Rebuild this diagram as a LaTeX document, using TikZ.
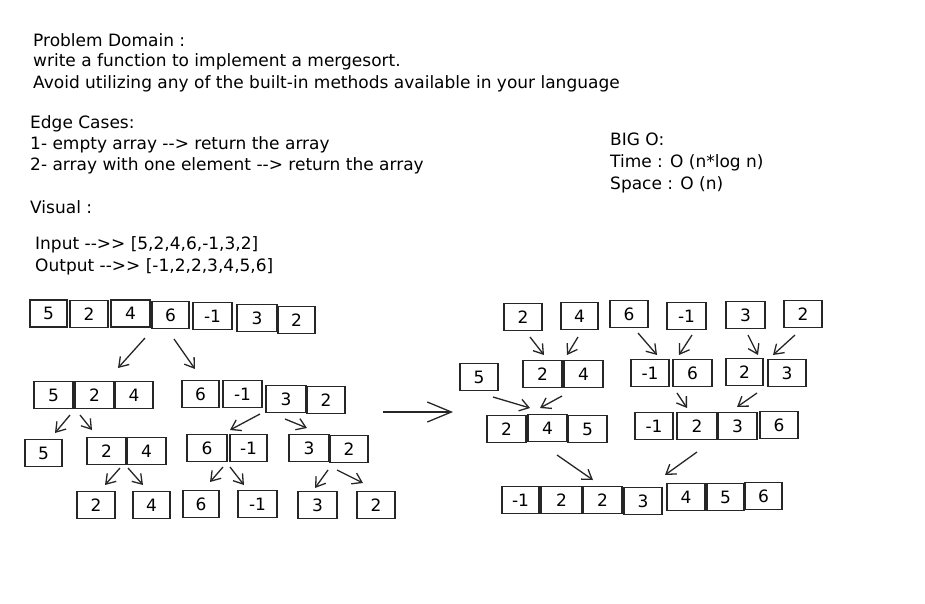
\documentclass[tikz,border=0pt]{standalone}
\usepackage{fontspec}
\setmainfont{DejaVu Sans}
\usetikzlibrary{arrows.meta}
\begin{document}
\begin{tikzpicture}[x=1pt,y=-1pt,
  cell/.style={draw=black!85,line width=1.4pt,minimum height=27pt,inner sep=0pt,font=\fontsize{17}{17}\selectfont},
  txt/.style={anchor=base west,inner sep=0pt,font=\fontsize{17}{18}\selectfont},
  arr/.style={draw=black!85,line width=1.3pt,-{Straight Barb[length=9pt,width=12pt]}},
  bigarr/.style={draw=black!85,line width=1.3pt,-{Straight Barb[length=24pt,width=20pt]}}]
\useasboundingbox (0,0) rectangle (925,603);
\fill[white] (0,0) rectangle (925,603);
% texts
\node[txt] (t1) at (33,46) {Problem Domain :};
\node[txt] (t2) at (33,66) {write a function to implement a mergesort.};
\node[txt] (t3) at (33,88) {Avoid utilizing any of the built-in methods available in your language};
\node[txt] (t4) at (30,128) {Edge Cases:};
\node[txt] (t5) at (30,149) {1- empty array -{}-> return the array};
\node[txt] (t6) at (30,170) {2- array with one element -{}-> return the array};
\node[txt] (t7) at (30,213) {Visual :};
\node[txt] (t8) at (610,145) {BIG O:};
\node[txt] (t9) at (610,167) {Time : O (n*log n)};
\node[txt] (t10) at (610,189) {Space : O (n)};
\node[txt] (t11) at (35,249) {Input -{}->{}> [5,2,4,6,-1,3,2]};
\node[txt] (t12) at (35,271) {Output -{}->{}> [-1,2,2,3,4,5,6]};
% row 1
\node[cell,minimum width=37pt] (a1) at (48.5,313.5) {5};
\node[cell,minimum width=38pt] (a2) at (89,314) {2};
\node[cell,minimum width=39pt] (a3) at (130.5,313.5) {4};
\node[cell,minimum width=37pt] (a4) at (170.5,315) {6};
\node[cell,minimum width=39pt] (a5) at (212.5,316) {-1};
\node[cell,minimum width=40pt] (a6) at (257,318) {3};
\node[cell,minimum width=37pt] (a7) at (296.5,320) {2};
% row 2
\node[cell,minimum width=39pt] (b1) at (53.5,395) {5};
\node[cell,minimum width=39pt] (b2) at (94.5,395) {2};
\node[cell,minimum width=38pt] (b3) at (134,395) {4};
\node[cell,minimum width=37pt] (b4) at (200.5,394) {6};
\node[cell,minimum width=39pt] (b5) at (242.5,394) {-1};
\node[cell,minimum width=40pt] (b6) at (286,399) {3};
\node[cell,minimum width=38pt] (b7) at (326,400) {2};
% row 3
\node[cell,minimum width=37pt] (c1) at (43.5,453) {5};
\node[cell,minimum width=39pt] (c2) at (106.5,451) {2};
\node[cell,minimum width=39pt] (c3) at (146.5,451) {4};
\node[cell,minimum width=40pt] (c4) at (207,448) {6};
\node[cell,minimum width=37pt] (c5) at (248.5,448) {-1};
\node[cell,minimum width=40pt] (c6) at (309,448) {3};
\node[cell,minimum width=38pt] (c7) at (349,449) {2};
% row 4
\node[cell,minimum width=38pt] (d1) at (96,505) {2};
\node[cell,minimum width=37pt] (d2) at (151.5,505) {4};
\node[cell,minimum width=36pt] (d3) at (201,504) {6};
\node[cell,minimum width=39pt] (d4) at (257.5,504) {-1};
\node[cell,minimum width=39pt] (d5) at (317.5,505) {3};
\node[cell,minimum width=38pt] (d6) at (376,505) {2};
% right row A
\node[cell,minimum width=38pt] (e1) at (523,317) {2};
\node[cell,minimum width=37pt] (e2) at (579.5,316) {4};
\node[cell,minimum width=38pt] (e3) at (629,314) {6};
\node[cell,minimum width=39pt] (e4) at (686.5,316) {-1};
\node[cell,minimum width=39pt] (e5) at (745.5,315) {3};
\node[cell,minimum width=38pt] (e6) at (803,314) {2};
% right row B
\node[cell,minimum width=38pt] (f1) at (479,377) {5};
\node[cell,minimum width=39pt] (f2) at (542.5,374) {2};
\node[cell,minimum width=39pt] (f3) at (583.5,374) {4};
\node[cell,minimum width=38pt] (f4) at (650,373) {-1};
\node[cell,minimum width=39pt] (f5) at (692.5,373) {6};
\node[cell,minimum width=37pt] (f6) at (744.5,372) {2};
\node[cell,minimum width=38pt] (f7) at (787,373) {3};
% right row C
\node[cell,minimum width=39pt] (g1) at (506.5,429) {2};
\node[cell,minimum width=39pt] (g2) at (547.5,428) {4};
\node[cell,minimum width=39pt] (g3) at (587.5,429) {5};
\node[cell,minimum width=38pt] (g4) at (654,426) {-1};
\node[cell,minimum width=40pt] (g5) at (697,426) {2};
\node[cell,minimum width=39pt] (g6) at (737.5,426) {3};
\node[cell,minimum width=38pt] (g7) at (779,425) {6};
% right row D
\node[cell,minimum width=37pt] (h1) at (520.5,500) {-1};
\node[cell,minimum width=41pt] (h2) at (561.5,500) {2};
\node[cell,minimum width=39pt] (h3) at (602.5,500) {2};
\node[cell,minimum width=38pt] (h4) at (643,501) {3};
\node[cell,minimum width=38pt] (h5) at (686,497) {4};
\node[cell,minimum width=37pt] (h6) at (725.5,497) {5};
\node[cell,minimum width=37pt] (h7) at (763.5,496) {6};
% arrow end points
\coordinate (p1s) at (145,338); \coordinate (p1e) at (118,368);
\coordinate (p2s) at (174,339); \coordinate (p2e) at (195,369);
\coordinate (p3s) at (70,415);  \coordinate (p3e) at (55,433);
\coordinate (p4s) at (80,415);  \coordinate (p4e) at (92,430);
\coordinate (p5s) at (260,414); \coordinate (p5e) at (230,430);
\coordinate (p6s) at (285,419); \coordinate (p6e) at (307,428);
\coordinate (p7s) at (120,468); \coordinate (p7e) at (105,485);
\coordinate (p8s) at (128,468); \coordinate (p8e) at (143,485);
\coordinate (p9s) at (223,467); \coordinate (p9e) at (210,482);
\coordinate (p10s) at (230,467); \coordinate (p10e) at (244,485);
\coordinate (p11s) at (328,470); \coordinate (p11e) at (315,488);
\coordinate (p12s) at (337,470); \coordinate (p12e) at (363,483);
\coordinate (bs) at (383,412); \coordinate (be) at (453,412);
\coordinate (q1s) at (530,337); \coordinate (q1e) at (544,355);
\coordinate (q2s) at (578,337); \coordinate (q2e) at (567,355);
\coordinate (q3s) at (638,333); \coordinate (q3e) at (657,355);
\coordinate (q4s) at (692,335); \coordinate (q4e) at (679,355);
\coordinate (q5s) at (748,335); \coordinate (q5e) at (758,355);
\coordinate (q6s) at (795,335); \coordinate (q6e) at (773,355);
\coordinate (r1s) at (493,397); \coordinate (r1e) at (530,408);
\coordinate (r2s) at (562,396); \coordinate (r2e) at (540,408);
\coordinate (r3s) at (677,393); \coordinate (r3e) at (687,408);
\coordinate (r4s) at (757,393); \coordinate (r4e) at (737,407);
\coordinate (s1s) at (557,455); \coordinate (s1e) at (593,480);
\coordinate (s2s) at (697,452); \coordinate (s2e) at (665,475);
\foreach \n in {p1,p2,p3,p4,p5,p6,p7,p8,p9,p10,p11,p12,q1,q2,q3,q4,q5,q6,r1,r2,r3,r4,s1,s2}
  \draw[arr] (\n s) -- (\n e);
\draw[bigarr] (bs) -- (be);
\end{tikzpicture}
\end{document}
